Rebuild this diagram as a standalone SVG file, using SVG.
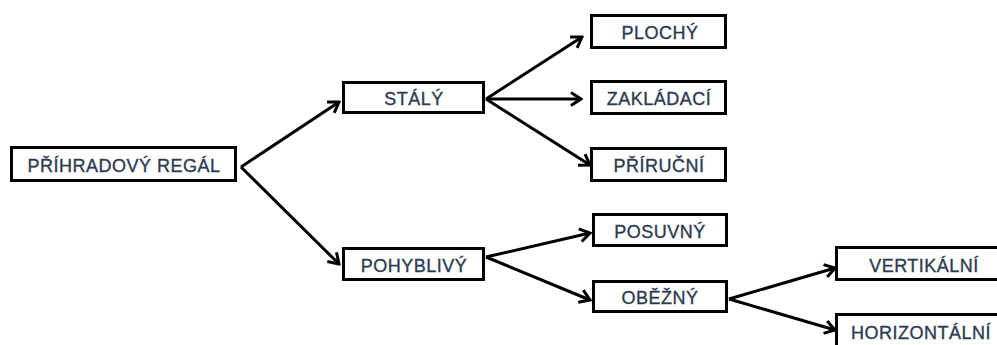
<svg xmlns="http://www.w3.org/2000/svg" width="997" height="345" viewBox="0 0 997 345">
<style>
.box{fill:#fff;stroke:#000;stroke-width:3}
.lbl{font-family:"Liberation Sans",Arial,sans-serif;font-size:18px;fill:#2d3a4f;stroke:#2d3a4f;stroke-width:0.35;letter-spacing:0.5px;text-anchor:middle}
.con{stroke:#000;stroke-width:3;fill:none;marker-end:url(#ah)}
</style>
<defs>
<marker id="ah" markerUnits="userSpaceOnUse" viewBox="0 0 14 16" markerWidth="14" markerHeight="16" refX="12" refY="8" orient="auto">
<path d="M2,1.5 L12,8 L2,14.5" fill="none" stroke="#000" stroke-width="3"/>
</marker>
</defs>
<rect width="997" height="345" fill="#fff"/>
<g id="connectors">
<line class="con" x1="241" y1="167" x2="339" y2="102"/>
<line class="con" x1="241" y1="167" x2="339" y2="264"/>
<line class="con" x1="486" y1="99" x2="582" y2="37"/>
<line class="con" x1="486" y1="99" x2="581" y2="99"/>
<line class="con" x1="486" y1="99" x2="590" y2="165"/>
<line class="con" x1="486" y1="257" x2="590" y2="233"/>
<line class="con" x1="486" y1="257" x2="590" y2="300"/>
<line class="con" x1="729" y1="299" x2="835" y2="268"/>
<line class="con" x1="729" y1="299" x2="835" y2="330"/>
</g>
<g id="n_root"><rect class="box" x="11.5" y="147.5" width="224" height="33"/><text class="lbl" x="124" y="172">PŘÍHRADOVÝ REGÁL</text></g>
<g id="n_staly"><rect class="box" x="343.5" y="82.5" width="140" height="30"/><text class="lbl" x="414" y="105">STÁLÝ</text></g>
<g id="n_pohyblivy"><rect class="box" x="343.5" y="248.5" width="140" height="31"/><text class="lbl" x="414" y="272">POHYBLIVÝ</text></g>
<g id="n_plochy"><rect class="box" x="591.5" y="15.5" width="134" height="32"/><text class="lbl" x="660" y="39">PLOCHÝ</text></g>
<g id="n_zakladaci"><rect class="box" x="591.5" y="81.5" width="134" height="32"/><text class="lbl" x="659" y="105">ZAKLÁDACÍ</text></g>
<g id="n_prirucni"><rect class="box" x="591.5" y="148.5" width="134" height="32"/><text class="lbl" x="659" y="172">PŘÍRUČNÍ</text></g>
<g id="n_posuvny"><rect class="box" x="593.5" y="214.5" width="133" height="31"/><text class="lbl" x="660" y="238">POSUVNÝ</text></g>
<g id="n_obezny"><rect class="box" x="593.5" y="281.5" width="133" height="30"/><text class="lbl" x="660" y="304">OBĚŽNÝ</text></g>
<g id="n_vertikalni"><rect class="box" x="836.5" y="247.5" width="180" height="32"/><text class="lbl" x="924" y="272">VERTIKÁLNÍ</text></g>
<g id="n_horizontalni"><rect class="box" x="836.5" y="314.5" width="180" height="40"/><text class="lbl" x="921" y="339">HORIZONTÁLNÍ</text></g>
</svg>
